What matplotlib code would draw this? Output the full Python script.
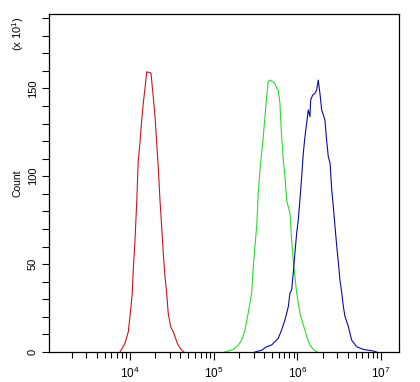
import numpy as np
import matplotlib
matplotlib.use("Agg")
import matplotlib.pyplot as plt
from matplotlib.ticker import LogLocator, MultipleLocator, NullFormatter

plt.rcParams['font.family'] = ['Liberation Sans', 'DejaVu Sans']
plt.rcParams['mathtext.fontset'] = 'custom'
plt.rcParams['mathtext.rm'] = 'Liberation Sans'

# --- data: log10 intensity and counts (x10) ---
red_log = [3.881, 3.940, 3.980, 4.008, 4.027, 4.039, 4.060, 4.080, 4.099, 4.119,
           4.140, 4.159, 4.179, 4.200, 4.231, 4.251, 4.278, 4.299, 4.319, 4.338,
           4.358, 4.379, 4.398, 4.418, 4.438, 4.457, 4.486, 4.517, 4.538, 4.565,
           4.589, 4.618, 4.645]
red_cnt = [0, 5, 11.5, 24, 33.6, 46.6, 63.7, 84.8, 109, 119,
           132, 141.6, 150, 159.4, 159, 158.7, 145, 134, 119, 105,
           86.5, 71, 56, 43, 33.6, 22, 14.4, 11.5, 8.7, 5,
           3, 1, 0]

green_log = [5.135, 5.234, 5.294, 5.335, 5.374, 5.413, 5.454, 5.473, 5.493, 5.514,
             5.533, 5.553, 5.573, 5.593, 5.613, 5.633, 5.652, 5.673, 5.705, 5.732,
             5.753, 5.772, 5.792, 5.812, 5.832, 5.852, 5.872, 5.892, 5.912, 5.932,
             5.951, 5.971, 5.992, 6.011, 6.031, 6.063, 6.091, 6.118, 6.150, 6.190,
             6.238]
green_cnt = [0, 1.5, 3.9, 6.8, 12.5, 22.2, 33.6, 48.5, 59.9, 71.3,
             90.4, 103.4, 113.2, 122.5, 133.8, 145.2, 153.8, 154.7, 153.8, 152.8,
             150, 149, 141.6, 122.5, 109.2, 99.6, 86.5, 82.5, 79, 63.7,
             52.3, 43, 33.6, 28, 22.2, 16.5, 12.5, 7.9, 4, 1.5,
             0]

blue_log = [5.493, 5.573, 5.633, 5.693, 5.732, 5.772, 5.812, 5.852, 5.892, 5.912,
            5.932, 5.951, 5.971, 5.992, 6.011, 6.031, 6.052, 6.071, 6.091, 6.111,
            6.131, 6.151, 6.159, 6.183, 6.210, 6.231, 6.250, 6.270, 6.291, 6.330,
            6.350, 6.370, 6.391, 6.411, 6.430, 6.450, 6.471, 6.491, 6.509, 6.531,
            6.550, 6.570, 6.610, 6.649, 6.709, 6.786, 6.907, 6.947]
blue_cnt = [0, 1, 3, 4, 5.9, 7.8, 12.5, 18.2, 25.8, 33.6,
            35.3, 44.8, 56.3, 67.6, 75.1, 86.5, 99.8, 113.0, 122.5, 130.1,
            137.7, 133.9, 143.3, 146.2, 147.1, 149.1, 154.7, 147.1, 137.7, 132,
            120.5, 111.1, 107.5, 92.2, 82.8, 71.5, 60.1, 50.6, 41.0, 33.6,
            25.8, 20.1, 14.4, 6.8, 3, 1.5, 0.6, 0]

fig = plt.figure(figsize=(4.2, 3.82), dpi=100)
ax = fig.add_axes([49 / 420, 30 / 382, 350 / 420, 338 / 382])

ax.plot(10 ** np.array(red_log), red_cnt, color='#cc1420', lw=0.8)
ax.plot(10 ** np.array(green_log), green_cnt, color='#2ed82e', lw=0.8)
ax.plot(10 ** np.array(blue_log), blue_cnt, color='#0c0c9c', lw=0.8)

ax.set_xscale('log')
ax.set_xlim(10 ** 3.032, 10 ** 7.215)
ax.set_ylim(0, 192.3)

ax.xaxis.set_major_locator(LogLocator(base=10, numticks=10))
ax.xaxis.set_minor_locator(LogLocator(base=10, subs=np.arange(2, 10), numticks=20))
ax.xaxis.set_minor_formatter(NullFormatter())
ax.yaxis.set_major_locator(MultipleLocator(50))
ax.yaxis.set_minor_locator(MultipleLocator(10))

ax.tick_params(axis='x', which='major', direction='out', length=6, width=0.8,
               labelsize=8.5, pad=4)
ax.tick_params(axis='x', which='minor', direction='out', length=4, width=0.8)
ax.tick_params(axis='y', which='major', direction='out', length=5, width=0.8,
               labelsize=8, pad=3)
ax.tick_params(axis='y', which='minor', direction='out', length=5, width=0.8)
for lab in ax.get_yticklabels():
    lab.set_rotation(90)
    lab.set_va('center')

for s in ax.spines.values():
    s.set_linewidth(0.9)
    s.set_color('black')

ax.set_ylabel('Count', fontsize=7.5, labelpad=4)
fig.text(18 / 420, 1 - 34 / 382, '(x 10$^{1}$)', rotation=90, fontsize=8,
         ha='center', va='center')

fig.savefig('out.png', dpi=100)
